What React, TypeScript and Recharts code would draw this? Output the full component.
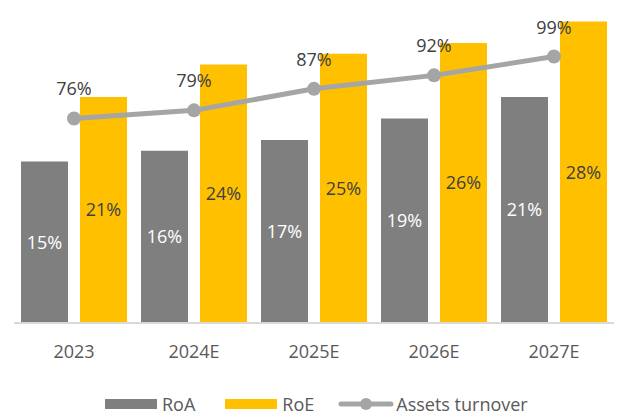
import { Bar, ComposedChart, LabelList, Line, XAxis, YAxis } from "recharts";

const years = ["2023", "2024E", "2025E", "2026E", "2027E"];
const roa = [15, 16, 17, 19, 21];
const roe = [21, 24, 25, 26, 28];
const turnover = [76, 79, 87, 92, 99];

const seriesNames = ["RoA", "RoE", "Assets turnover"];

const data = years.map((year, i) => ({
  year,
  roa: roa[i],
  roe: roe[i],
  turnover: turnover[i],
}));

const FONT = "'Open Sans', sans-serif";
const pct = (v: any) => `${v}%`;

function LegendRow() {
  const textStyle = { fontSize: 18, color: "#595959", marginLeft: 5 };
  return (
    <div
      style={{
        position: "absolute",
        top: 392,
        left: 105,
        display: "flex",
        alignItems: "center",
        fontFamily: FONT,
        height: 24,
      }}
    >
      <span style={{ width: 52, height: 10, background: "#7f7f7f", display: "inline-block" }} />
      <span style={{ ...textStyle, marginRight: 30 }}>{seriesNames[0]}</span>
      <span style={{ width: 52, height: 10, background: "#ffc000", display: "inline-block" }} />
      <span style={{ ...textStyle, marginRight: 24 }}>{seriesNames[1]}</span>
      <svg width={56} height={14}>
        <line x1={3} y1={7} x2={53} y2={7} stroke="#a5a5a5" strokeWidth={5} strokeLinecap="round" />
        <circle cx={28} cy={7} r={6} fill="#a5a5a5" />
      </svg>
      <span style={{ ...textStyle, marginLeft: 2 }}>{seriesNames[2]}</span>
    </div>
  );
}

export default function App() {
  return (
    <div style={{ position: "absolute", top: 0, left: 0, width: 619, height: 417, background: "#fff" }}>
      <ComposedChart
        width={619}
        height={417}
        data={data}
        margin={{ top: 0, right: 5, left: 14, bottom: 44 }}
        barGap={12}
        style={{ fontFamily: FONT }}
      >
        <XAxis
          dataKey="year"
          height={50}
          axisLine={{ stroke: "#d9d9d9", strokeWidth: 2 }}
          tickLine={false}
          tickMargin={16}
          tick={{ fontSize: 18, fill: "#595959" }}
        />
        <YAxis yAxisId="left" domain={[0, 30]} hide />
        <YAxis yAxisId="right" orientation="right" domain={[0, 120]} hide />
        <Bar yAxisId="left" dataKey="roa" name={seriesNames[0]} fill="#7f7f7f" barSize={47} isAnimationActive={false}>
          <LabelList dataKey="roa" position="center" formatter={pct} fill="#ffffff" fontSize={18} />
        </Bar>
        <Bar yAxisId="left" dataKey="roe" name={seriesNames[1]} fill="#ffc000" barSize={47} isAnimationActive={false}>
          <LabelList dataKey="roe" position="center" formatter={pct} fill="#404040" fontSize={18} />
        </Bar>
        <Line
          yAxisId="right"
          dataKey="turnover"
          name={seriesNames[2]}
          stroke="#a5a5a5"
          strokeWidth={5}
          dot={{ r: 7, fill: "#a5a5a5", stroke: "none" }}
          isAnimationActive={false}
        >
          <LabelList dataKey="turnover" position="top" offset={23} formatter={pct} fill="#404040" fontSize={18} />
        </Line>
      </ComposedChart>
      <LegendRow />
    </div>
  );
}
